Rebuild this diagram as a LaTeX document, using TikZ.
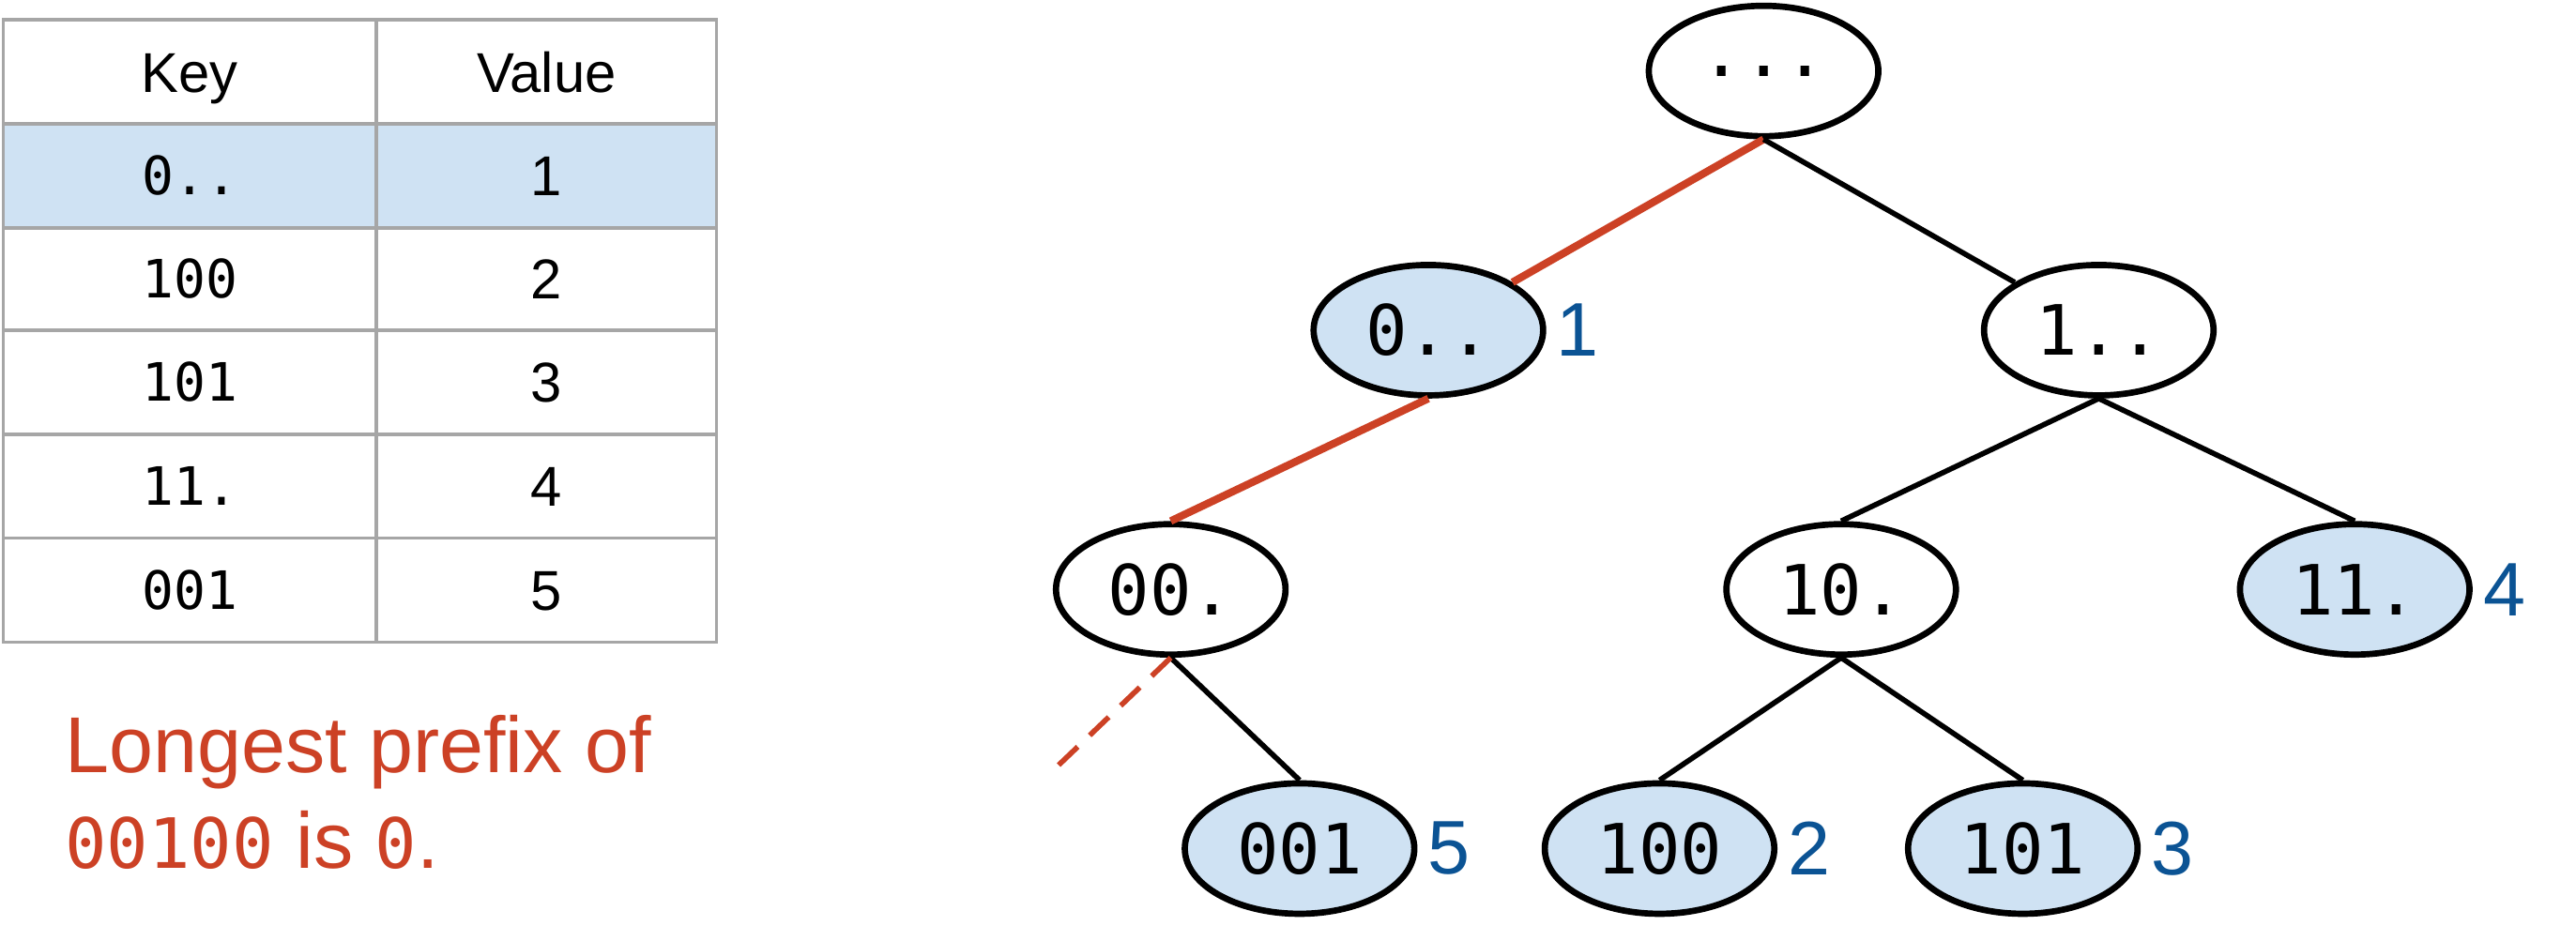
\documentclass[tikz,border=0pt]{standalone}
\usepackage{fontspec}
\setmainfont{Liberation Sans}
\newfontfamily\codefont{DejaVu Sans Mono}
\usepackage{tikz}
\usetikzlibrary{positioning,shapes.geometric}
\definecolor{keyblue}{HTML}{CFE2F3}
\definecolor{valblue}{HTML}{0B5394}
\definecolor{hitred}{HTML}{CC4125}
\definecolor{rulegray}{HTML}{A6A6A6}
\newcommand{\bits}[1]{{\codefont\fontsize{21}{25}\selectfont #1}}

\begin{document}
\begin{tikzpicture}[x=0.5pt,y=-0.5pt,
    trie/.style={ellipse,draw,on grid,line width=1.9pt,minimum width=69.5pt,minimum height=39.5pt,inner sep=0pt,font=\codefont\fontsize{21}{25}\selectfont},
    stored/.style={trie,fill=keyblue},
    val/.style={text=valblue,inner sep=0pt,font=\fontsize{23}{27}\selectfont},
    edge/.style={line width=1.6pt},
    hit/.style={hitred,line width=2.3pt},
    txt/.style={anchor=base,yshift=-6.1pt,font=\fontsize{17}{20}\selectfont},
    cell/.style={anchor=base,yshift=-5.8pt,font=\codefont\fontsize{16}{19}\selectfont},
    note/.style={anchor=base west,text=hitred,inner sep=0pt,font=\fontsize{24}{29}\selectfont}]
      \useasboundingbox (0,0) rectangle (1560,570);

      % table
      \fill[keyblue] (2,75) rectangle (434,138);
      \draw[rulegray,line width=1pt] (2,12) rectangle (434,389)
        (2,75) -- (434,75) (2,138) -- (434,138) (2,200) -- (434,200)
        (2,263) -- (434,263) (2,326) -- (434,326) (228,12) -- (228,389);

      \node[txt] (hkey) at (115,43.5) {Key};
      \node[txt] (hval) at (331,43.5) {Value};
      \node[cell] (k1) at (115,106.5) {0..};
      \node[txt] (v1) at (331,106.5) {1};
      \node[cell] (k2) at (115,169) {100};
      \node[txt] (v2) at (331,169) {2};
      \node[cell] (k3) at (115,231.5) {101};
      \node[txt] (v3) at (331,231.5) {3};
      \node[cell] (k4) at (115,294.5) {11.};
      \node[txt] (v4) at (331,294.5) {4};
      \node[cell] (k5) at (115,357.5) {001};
      \node[txt] (v5) at (331,357.5) {5};

      \node[note] (q1) at (39,468) {Longest prefix of};
      \node[note] (q2) at (39,526) {\bits{00100} is \bits{0}.};

      % trie
      \node[trie] (root) at (1068,43) {...};
      \node[stored, below left=78.5pt and 101.5pt of root] (n0) {0..};
      \node[trie, below right=78.5pt and 101.5pt of root] (n1) {1..};
      \node[trie, below left=78.5pt and 78pt of n0] (n00) {00.};
      \node[trie, below left=78.5pt and 78pt of n1] (n10) {10.};
      \node[stored, below right=78.5pt and 77.5pt of n1] (n11) {11.};
      \node[stored, below right=78.5pt and 39pt of n00] (n001) {001};
      \node[stored, below left=78.5pt and 55pt of n10] (n100) {100};
      \node[stored, below right=78.5pt and 55pt of n10] (n101) {101};

      \node[val, right=3pt of n0] (l0) {1};
      \node[val, right=3pt of n11] (l11) {4};
      \node[val, right=3pt of n001] (l001) {5};
      \node[val, right=3pt of n100] (l100) {2};
      \node[val, right=3pt of n101] (l101) {3};

      \draw[hit] (root.south) -- (n0);
      \draw[edge] (root.south) -- (n1);
      \draw[hit] (n0.south) -- (n00.north);
      \draw[edge] (n1.south) -- (n10.north);
      \draw[edge] (n1.south) -- (n11.north);
      \draw[edge] (n00.south) -- (n001.north);
      \draw[edge] (n10.south) -- (n100.north);
      \draw[edge] (n10.south) -- (n101.north);

      \coordinate[below left=34pt and 35.5pt of n00.south] (miss);
      \draw[hitred,line width=1.6pt,dash pattern=on 8pt off 5pt] (n00.south) -- (miss);
    \end{tikzpicture}
\end{document}
